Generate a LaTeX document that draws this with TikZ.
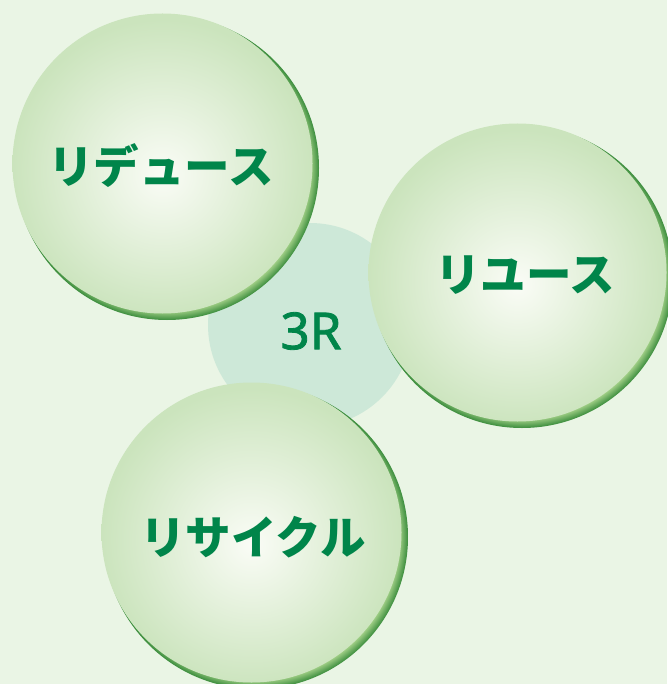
\documentclass[tikz,border=0pt]{standalone}
\usepackage{fontspec}
\newfontfamily\jpfont{Noto Sans CJK JP}
\newfontfamily\hubfont[FakeBold=1.6]{Noto Sans}
\definecolor{bgcol}{HTML}{EAF5E5}
\definecolor{hubcol}{HTML}{CDE8D8}
\definecolor{txtcol}{HTML}{00854A}
\definecolor{spherein}{HTML}{FAFCF6}
\definecolor{sphereout}{HTML}{CBE4BD}
\definecolor{rimlight}{HTML}{A4D189}
\definecolor{rimdark}{HTML}{3A8C3C}
\pgfdeclareradialshading{spherebody}{\pgfpoint{0bp}{-2bp}}{%
  color(0bp)=(spherein); color(25bp)=(sphereout); color(50bp)=(sphereout)}
\pgfdeclareradialshading{sphererim}{\pgfpoint{0bp}{0bp}}{%
  color(0bp)=(rimlight); color(23.5bp)=(rimlight); color(25bp)=(rimdark); color(50bp)=(rimdark)}
\tikzset{
  rimfill/.style={shading=sphererim},
  bodyfill/.style={shading=spherebody},
  label3r/.style={font=\jpfont\bfseries\fontsize{45.5}{50}\selectfont, text=txtcol, inner sep=0pt},
  hubtext/.style={font=\hubfont\fontsize{51}{56}\selectfont, text=txtcol, inner sep=0pt}
}
\newcommand{\drawsphere}[3]{%
  \shade[rimfill] (#1,#2) circle[radius=#3];
  \shade[bodyfill] ({#1-4.5},{#2-4.5}) circle[radius={#3-2}];
}
\begin{document}
\begin{tikzpicture}[x=1pt,y=-1pt]
  \fill[bgcol] (0,0) rectangle (667,684);
  \useasboundingbox (0,0) rectangle (667,684);
  \fill[hubcol] (310,325) circle[radius=102];
  \drawsphere{167}{168}{152}
  \drawsphere{522}{277}{151}
  \drawsphere{256}{537}{152}
  \node[hubtext] (hub) at (311,331) {3R};
  \node[label3r] (reduce) at (161,166) {リデュース};
  \node[label3r] (reuse) at (525,275) {リユース};
  \node[label3r] (recycle) at (253,537) {リサイクル};
\end{tikzpicture}
\end{document}
